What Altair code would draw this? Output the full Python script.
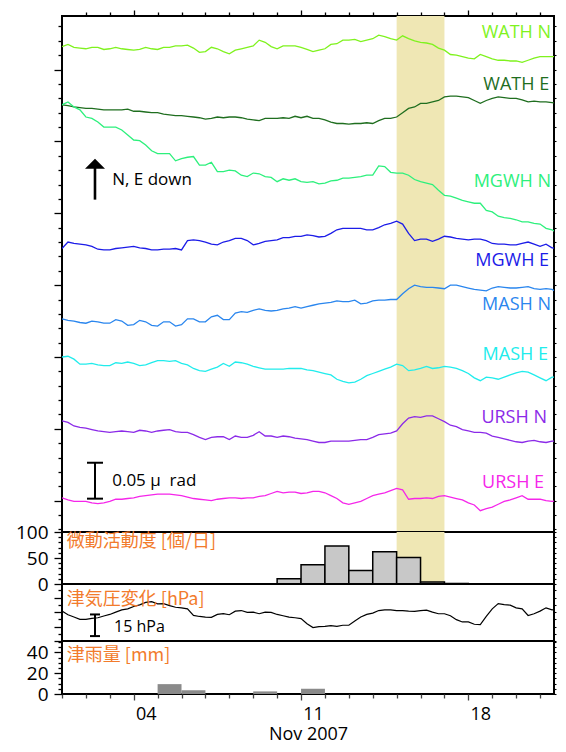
import altair as alt
import pandas as pd

# ------------------------------------------------------------------ data
SERIES = ["WATH N", "WATH E", "MGWH N", "MGWH E", "MASH N", "MASH E", "URSH N", "URSH E"]
COLORS = ["#7ff21e", "#1f6e1f", "#2df07c", "#1c1ce8", "#2a86ee", "#21ecec", "#8b2ae8", "#f526ea"]

TRACE_START = "2007-11-01 00:00"
TRACE_STEP_HOURS = 6   # one reading every 6 h (4 per day, 21 days + end point)

# tilt traces, nrad (0.001 microradian), plotted with their own vertical offsets
WATH_N = [632, 635, 631, 630, 629, 631, 631, 628, 629, 631, 629, 628, 627, 628, 631, 629,
          628, 631, 631, 633, 633, 634, 630, 624, 625, 631, 629, 625, 622, 627, 629, 631,
          633, 641, 638, 632, 629, 633, 633, 633, 631, 628, 625, 627, 629, 635, 636, 641,
          641, 642, 639, 641, 643, 648, 646, 643, 641, 647, 643, 640, 638, 637, 635, 630,
          627, 621, 620, 618, 616, 615, 621, 618, 615, 613, 613, 612, 612, 610, 613, 616,
          618, 618, 618, 618, 619]
WATH_E = [551, 550, 548, 547, 546, 546, 545, 544, 544, 544, 544, 545, 542, 542, 541, 540,
          540, 538, 537, 536, 536, 535, 534, 533, 531, 532, 534, 533, 534, 534, 533, 531,
          530, 529, 532, 532, 532, 533, 532, 535, 533, 535, 532, 532, 530, 527, 525, 525,
          524, 525, 525, 526, 525, 529, 532, 532, 534, 540, 546, 548, 553, 553, 555, 557,
          562, 563, 563, 562, 561, 557, 553, 557, 560, 562, 561, 560, 560, 558, 555, 556,
          555, 555, 554, 553, 553]
MGWH_N = [551, 555, 548, 544, 534, 532, 527, 520, 520, 520, 516, 509, 502, 501, 495, 487,
          483, 483, 483, 473, 476, 478, 479, 467, 467, 471, 458, 458, 460, 459, 453, 451,
          456, 455, 451, 450, 444, 448, 446, 448, 444, 443, 444, 441, 442, 445, 446, 449,
          449, 450, 451, 453, 453, 466, 465, 457, 456, 456, 453, 447, 444, 442, 440, 432,
          425, 424, 421, 418, 416, 414, 414, 404, 402, 396, 394, 393, 391, 388, 388, 386,
          385, 379, 377, 372, 370]
MGWH_E = [351, 360, 358, 357, 356, 354, 350, 349, 349, 351, 352, 353, 354, 352, 351, 349,
          349, 350, 350, 351, 349, 362, 363, 362, 360, 357, 356, 360, 362, 365, 365, 362,
          356, 358, 361, 362, 363, 366, 366, 368, 368, 370, 369, 367, 368, 372, 377, 379,
          379, 379, 379, 377, 377, 380, 384, 386, 389, 385, 372, 362, 364, 364, 361, 364,
          368, 367, 365, 364, 363, 364, 364, 362, 358, 357, 357, 356, 356, 358, 360, 357,
          354, 357, 352, 351, 349]
MASH_N = [253, 251, 250, 248, 247, 250, 249, 247, 247, 252, 250, 244, 245, 251, 249, 244,
          243, 249, 249, 243, 245, 253, 253, 249, 249, 256, 258, 252, 252, 261, 263, 262,
          265, 267, 265, 264, 265, 267, 268, 270, 268, 270, 272, 274, 275, 276, 278, 277,
          277, 279, 274, 275, 278, 279, 279, 280, 280, 288, 295, 300, 298, 297, 297, 296,
          295, 300, 300, 298, 296, 294, 293, 292, 296, 298, 297, 296, 296, 297, 298, 295,
          294, 295, 294, 290, 289]
MASH_E = [200, 201, 197, 190, 190, 191, 189, 188, 188, 192, 191, 193, 191, 188, 189, 192,
          195, 195, 194, 195, 191, 189, 184, 181, 180, 183, 186, 191, 187, 193, 192, 190,
          187, 185, 183, 183, 183, 183, 184, 184, 184, 182, 181, 179, 177, 175, 169, 166,
          164, 165, 169, 174, 177, 180, 183, 186, 190, 188, 181, 182, 184, 187, 184, 185,
          187, 186, 184, 181, 177, 171, 167, 172, 171, 169, 172, 175, 178, 180, 179, 175,
          171, 167, 172, 172, 173]
URSH_N = [111, 109, 104, 102, 101, 99, 97, 96, 95, 96, 97, 96, 95, 98, 97, 95,
          97, 98, 99, 96, 95, 95, 92, 88, 85, 88, 89, 89, 85, 90, 88, 88,
          91, 96, 90, 90, 88, 90, 89, 87, 86, 85, 83, 81, 81, 83, 83, 83,
          83, 84, 85, 85, 88, 92, 93, 94, 97, 107, 115, 117, 116, 118, 118, 114,
          110, 105, 103, 99, 97, 95, 95, 94, 90, 88, 86, 84, 82, 81, 83, 84,
          82, 81, 83, 83, 82]
URSH_E = [4, 1, -1, -1, -1, -3, -4, -3, -1, 2, 2, 3, 4, 6, 7, 8,
          9, 9, 9, 8, 7, 5, 3, 2, 1, 0, 2, 3, 4, 4, 3, 4,
          4, 6, 7, 10, 13, 11, 12, 12, 10, 11, 13, 13, 11, 7, 3, -3,
          -5, -3, -1, 3, 7, 9, 11, 14, 17, 15, 2, 3, 3, 4, 3, 6,
          7, 5, 3, 1, -3, -6, -14, -11, -9, -5, -1, 1, 4, 7, 2, 2,
          2, 0, -1, 0, 2]
TRACES = [WATH_N, WATH_E, MGWH_N, MGWH_E, MASH_N, MASH_E, URSH_N, URSH_E]

# series labels: right end (days after Nov 1 00:00) and vertical position (nrad)
LABEL_END_DAY = [20.46, 20.38, 20.46, 20.38, 20.46, 20.33, 20.29, 20.17]
LABEL_Y = [651, 578, 443, 333, 272, 203, 115, 25]

# air pressure change, hPa (relative), every 6 h
PRESSURE = [20.7, 18.2, 16.6, 15.0, 15.0, 15.7, 16.1, 17.3, 18.4, 20.0, 21.6, 22.3,
            23.9, 25.0, 26.8, 27.3, 25.7, 25.9, 24.5, 23.4, 23.0, 22.3, 17.7, 17.0,
            16.6, 16.4, 18.4, 18.9, 18.2, 20.7, 21.1, 19.8, 20.0, 18.9, 20.0, 19.8,
            18.4, 17.5, 16.6, 16.1, 15.5, 12.0, 9.3, 10.0, 10.2, 10.7, 10.2, 10.9,
            10.9, 13.9, 16.6, 18.4, 19.3, 21.1, 21.6, 21.6, 21.1, 21.1, 20.7, 20.5,
            21.1, 21.4, 20.0, 18.9, 18.9, 17.5, 14.8, 13.2, 13.2, 11.6, 11.4, 17.0,
            22.3, 25.9, 25.2, 24.8, 23.0, 22.3, 17.7, 18.9, 20.7, 23.0, 21.6, 22.0, 23.4]

# tremor activity [events/day]
TREMOR_NOV_DAY = [10, 11, 12, 13, 14, 15, 16, 17]
TREMOR = [10, 37, 73, 26, 62, 51, 4, 1]

# rainfall [mm/day]
RAIN_NOV_DAY = [5, 6, 9, 11]
RAIN = [9.5, 3.5, 2.5, 5.0]

BAND_START, BAND_END = "2007-11-15 00:00", "2007-11-17 00:00"

# annotations
NOTE_X_DAY = 1.38
NOTE_TEXT_X_DAY = 2.1
ARROW_SHAFT = (419, 464)
ARROW_HEAD_Y = 469
TILT_BAR = (2.8, 52.8)           # 0.05 microradian
TILT_TEXTS = ["N, E down", "0.05 \u03bc\u00a0 rad"]
TILT_TEXT_Y = [446, 27]
PRES_BAR = (3.4, 18.4)           # 15 hPa
PRES_TEXT = "15 hPa"
PRES_TEXT_Y = 9.5
PANEL_TITLES = ["微動活動度 [個/日]", "津気圧変化 [hPa]", "津雨量 [mm]"]
PANEL_TITLE_Y = [81, 28.6, 36.5]
PANEL_TITLE_X_DAY = 0.2

# ------------------------------------------------------------------ frames
T0 = pd.Timestamp(TRACE_START)


def at(d):
    return T0 + pd.Timedelta(days=d)


n = len(WATH_N)
times = [T0 + pd.Timedelta(hours=TRACE_STEP_HOURS * i) for i in range(n)]

tilt = pd.DataFrame([
    {"series": s, "t": t, "v": v}
    for s, vals in zip(SERIES, TRACES) for t, v in zip(times, vals)
])
labels = pd.DataFrame({"series": SERIES, "lx": [at(d) for d in LABEL_END_DAY], "ly": LABEL_Y})
band = pd.DataFrame({"s": [pd.Timestamp(BAND_START)], "e": [pd.Timestamp(BAND_END)]})
pres = pd.DataFrame({"t": times[:len(PRESSURE)], "p": PRESSURE})
tremor = pd.DataFrame({
    "s": [pd.Timestamp(2007, 11, d) for d in TREMOR_NOV_DAY],
    "e": [pd.Timestamp(2007, 11, d) + pd.Timedelta(days=1) for d in TREMOR_NOV_DAY],
    "n": TREMOR,
})
rain = pd.DataFrame({
    "s": [pd.Timestamp(2007, 11, d) for d in RAIN_NOV_DAY],
    "e": [pd.Timestamp(2007, 11, d) + pd.Timedelta(days=1) for d in RAIN_NOV_DAY],
    "r": RAIN,
})
note_x = at(NOTE_X_DAY)
note_tx = at(NOTE_TEXT_X_DAY)
arrow = pd.DataFrame({"t": [note_x], "y1": [ARROW_SHAFT[0]], "y2": [ARROW_SHAFT[1]], "h": [ARROW_HEAD_Y]})
tbar = pd.DataFrame({"t": [note_x], "y1": [TILT_BAR[0]], "y2": [TILT_BAR[1]]})
tcaps = pd.DataFrame({"t": [note_x, note_x], "y": list(TILT_BAR)})
ttext = pd.DataFrame({"t": [note_tx, note_tx], "y": TILT_TEXT_Y, "txt": TILT_TEXTS})
pbar = pd.DataFrame({"t": [note_x], "y1": [PRES_BAR[0]], "y2": [PRES_BAR[1]]})
pcaps = pd.DataFrame({"t": [note_x, note_x], "y": list(PRES_BAR)})
ptext = pd.DataFrame({"t": [at(2.18)], "y": [PRES_TEXT_Y], "txt": [PRES_TEXT]})
ptitles = [pd.DataFrame({"t": [at(PANEL_TITLE_X_DAY)], "y": [y], "txt": [s]})
           for s, y in zip(PANEL_TITLES, PANEL_TITLE_Y)]

# ------------------------------------------------------------------ scales / axes
W = 492
H1, H2, H3, H4 = 516, 52, 57, 53
FONT = "Open Sans"
ORANGE = "#f27b2c"
xs = alt.Scale(domain=[alt.DateTime(year=2007, month=11, date=1),
                       alt.DateTime(year=2007, month=11, date=21, hours=14)])
DAYS_BOTTOM = [alt.DateTime(year=2007, month=11, date=d) for d in range(1, 22)]
DAYS_IN = [alt.DateTime(year=2007, month=11, date=d) for d in range(2, 22)]
MAJOR = "date(datum.value) == 4 || date(datum.value) == 11 || date(datum.value) == 18"

x_top = alt.Axis(orient="top", values=DAYS_IN, labels=False, title=None, domain=False,
                 tickSize={"condition": {"test": MAJOR, "value": 6}, "value": 4},
                 tickWidth=1.3, tickColor="black")
x_bottom = alt.Axis(orient="bottom", values=DAYS_BOTTOM, domain=False, title="Nov 2007",
                    labelExpr="(" + MAJOR + ") ? timeFormat(datum.value, '%d') : ''",
                    labelOffset=12, labelPadding=5, labelOverlap=False, labelBound=False,
                    labelFlush=False, titlePadding=2, labelFontSize=18, titleFontSize=18,
                    tickSize={"condition": {"test": MAJOR, "value": 6}, "value": 4},
                    tickWidth=1.3, tickColor="#444")


def left_axis(vals, major_test, label_test=None):
    kw = dict(orient="left", values=vals, title=None, domain=False, tickWidth=1.3,
              tickColor="black", labelPadding=6, labelOverlap=False, labelBound=False,
              labelFlush=False,
              tickSize={"condition": {"test": major_test, "value": 8}, "value": 4})
    if label_test is None:
        kw["labels"] = False
    else:
        kw["labelExpr"] = "(" + label_test + ") ? datum.label : ''"
    return alt.Axis(**kw)


def right_axis(vals):
    return alt.Axis(orient="right", values=vals, title=None, domain=False, labels=False,
                    tickSize=2, tickWidth=1.1, tickColor="black")


cs = alt.Scale(domain=SERIES, range=COLORS)

# ------------------------------------------------------------------ panel 1: tilt
ys1 = alt.Scale(domain=[-43.6, 674.6], nice=False, zero=False)
ticks1 = list(range(-40, 661, 20))
X1 = lambda f: alt.X(f, scale=xs, axis=x_top, title=None)
Y1 = lambda f: alt.Y(f, scale=ys1, axis=None, title=None)

p1 = alt.layer(
    alt.Chart(band).mark_rect(color="#efe7b4").encode(x=X1("s:T"), x2="e:T"),
    alt.Chart(tilt).mark_line(strokeWidth=1.3, clip=True).encode(
        x=X1("t:T"),
        y=alt.Y("v:Q", scale=ys1, axis=left_axis(ticks1, "datum.value % 100 == 0"), title=None),
        color=alt.Color("series:N", scale=cs, legend=None),
    ),
    alt.Chart(labels).mark_text(align="right", baseline="middle", font=FONT, fontSize=18).encode(
        x=X1("lx:T"),
        y=alt.Y("ly:Q", scale=ys1, axis=right_axis(ticks1), title=None),
        text="series:N",
        color=alt.Color("series:N", scale=cs, legend=None),
    ),
    alt.Chart(arrow).mark_rule(color="black", strokeWidth=2.6).encode(x=X1("t:T"), y=Y1("y1:Q"), y2="y2:Q"),
    alt.Chart(arrow).mark_point(shape="M-1,0.5L0,-0.5L1,0.5Z", size=400, filled=True,
                                color="black", opacity=1).encode(x=X1("t:T"), y=Y1("h:Q")),
    alt.Chart(tbar).mark_rule(color="black", strokeWidth=2).encode(x=X1("t:T"), y=Y1("y1:Q"), y2="y2:Q"),
    alt.Chart(tcaps).mark_tick(orient="horizontal", size=16, thickness=2, color="black",
                               opacity=1).encode(x=X1("t:T"), y=Y1("y:Q")),
    alt.Chart(ttext).mark_text(align="left", baseline="middle", font=FONT, fontSize=17,
                               color="black").encode(x=X1("t:T"), y=Y1("y:Q"), text="txt:N"),
).resolve_axis(y="independent").properties(width=W, height=H1)

# ------------------------------------------------------------------ panel 2: tremor
ys2 = alt.Scale(domain=[0, 100], nice=False)
ticks2 = list(range(0, 101, 10))
X0 = lambda f: alt.X(f, scale=xs, axis=None, title=None)
p2 = alt.layer(
    alt.Chart(band).mark_rect(color="#efe7b4").encode(x=X0("s:T"), x2="e:T"),
    alt.Chart(tremor).mark_rect(fill="#c8c8c8", stroke="black", strokeWidth=1.5).encode(
        x=X0("s:T"), x2="e:T",
        y=alt.Y("n:Q", scale=ys2, title=None,
                axis=left_axis(ticks2, "datum.value % 50 == 0", "datum.value % 50 == 0")),
        y2=alt.datum(0),
    ),
    alt.Chart(ptitles[0]).mark_text(align="left", baseline="middle", font="Noto Sans CJK JP",
                                    fontSize=18, color=ORANGE).encode(
        x=X0("t:T"), y=alt.Y("y:Q", scale=ys2, axis=right_axis(ticks2), title=None), text="txt:N"),
).resolve_axis(y="independent").properties(width=W, height=H2)

# ------------------------------------------------------------------ panel 3: pressure
ys3 = alt.Scale(domain=[0, 39.5], nice=False, zero=False)
ticks3 = list(range(0, 40, 5))
Y3 = lambda f: alt.Y(f, scale=ys3, axis=None, title=None)
p3 = alt.layer(
    alt.Chart(pres).mark_line(color="black", strokeWidth=1.2, clip=True).encode(
        x=X0("t:T"),
        y=alt.Y("p:Q", scale=ys3, title=None, axis=left_axis(ticks3, "datum.value % 10 == 0"))),
    alt.Chart(pbar).mark_rule(color="black", strokeWidth=2).encode(x=X0("t:T"), y=Y3("y1:Q"), y2="y2:Q"),
    alt.Chart(pcaps).mark_tick(orient="horizontal", size=10, thickness=2, color="black",
                               opacity=1).encode(x=X0("t:T"), y=Y3("y:Q")),
    alt.Chart(ptext).mark_text(align="left", baseline="middle", font=FONT, fontSize=16,
                               color="black").encode(x=X0("t:T"), y=Y3("y:Q"), text="txt:N"),
    alt.Chart(ptitles[1]).mark_text(align="left", baseline="middle", font="Noto Sans CJK JP",
                                    fontSize=18, color=ORANGE).encode(
        x=X0("t:T"), y=alt.Y("y:Q", scale=ys3, axis=right_axis(ticks3), title=None), text="txt:N"),
).resolve_axis(y="independent").properties(width=W, height=H3)

# ------------------------------------------------------------------ panel 4: rain
ys4 = alt.Scale(domain=[0, 51], nice=False)
ticks4 = list(range(0, 51, 5))
XB = lambda f: alt.X(f, scale=xs, axis=x_bottom, title="Nov 2007")
p4 = alt.layer(
    alt.Chart(rain).mark_rect(color="#8a8a8a").encode(
        x=XB("s:T"), x2="e:T",
        y=alt.Y("r:Q", scale=ys4, title=None,
                axis=left_axis(ticks4, "datum.value % 20 == 0", "datum.value % 20 == 0")),
        y2=alt.datum(0)),
    alt.Chart(ptitles[2]).mark_text(align="left", baseline="middle", font="Noto Sans CJK JP",
                                    fontSize=18, color=ORANGE).encode(
        x=XB("t:T"), y=alt.Y("y:Q", scale=ys4, axis=right_axis(ticks4), title=None), text="txt:N"),
).resolve_axis(y="independent").properties(width=W, height=H4)

chart = alt.vconcat(p1, p2, p3, p4, spacing=0, bounds="flush").properties(
    padding={"left": 6, "top": 0, "right": 0, "bottom": 0}
).configure_view(stroke="black", strokeWidth=2).configure_axis(
    grid=False, labelFont=FONT, labelFontSize=19, labelColor="black",
    titleFont=FONT, titleFontSize=18, titleFontWeight="normal", titleColor="black",
)

chart.save("out.html", embed_options={"renderer": "svg", "actions": False})
